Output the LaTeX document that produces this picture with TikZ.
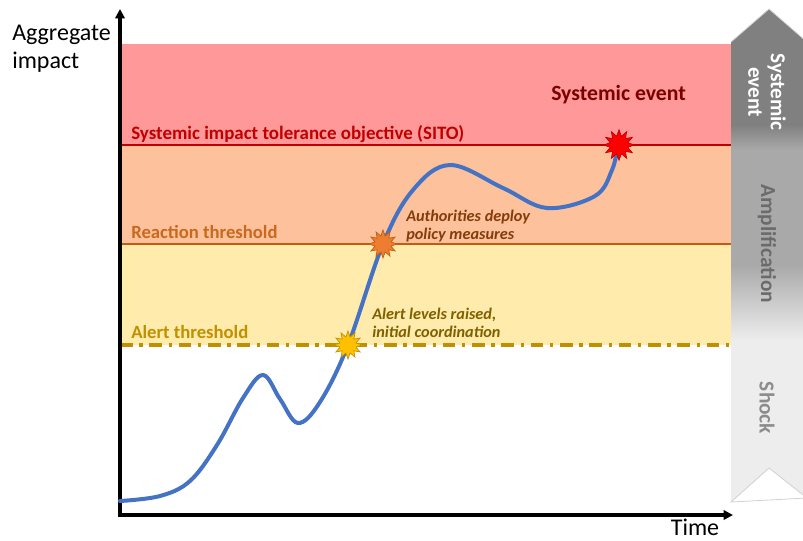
\documentclass[tikz,border=0pt]{standalone}
\usepackage{fontspec}
\setmainfont{Carlito}
\usetikzlibrary{shapes.geometric,arrows.meta}
\definecolor{bandred}{HTML}{FF9999}
\definecolor{bandorange}{HTML}{FDC29B}
\definecolor{bandyellow}{HTML}{FFEBAB}
\definecolor{sitored}{HTML}{C00000}
\definecolor{reactorange}{HTML}{C55A11}
\definecolor{reacttext}{HTML}{C8691E}
\definecolor{alertgold}{HTML}{BF9000}
\definecolor{curveblue}{HTML}{4472C4}
\definecolor{maroon}{HTML}{7B0000}
\definecolor{brownish}{HTML}{843C0C}
\definecolor{olivebrown}{HTML}{7F6000}
\definecolor{chevdark}{HTML}{808080}
\definecolor{chevmid}{HTML}{A9A9A9}
\definecolor{chevlight}{HTML}{EDEDED}
\definecolor{burstgold}{HTML}{FFC000}
\definecolor{burstorange}{HTML}{ED7D31}
\tikzset{
  lbl/.style={font=\fontsize{14pt}{16pt}\selectfont\bfseries, inner sep=0pt, anchor=base west},
  note/.style={font=\fontsize{12.2pt}{13.5pt}\selectfont\bfseries\itshape, inner sep=0pt, anchor=base west, align=left},
  axislbl/.style={font=\fontsize{18pt}{21pt}\selectfont, inner sep=0pt, anchor=base west, align=left},
  chevtxt/.style={font=\fontsize{16pt}{17pt}\selectfont\bfseries, inner sep=0pt, rotate=-90, align=center},
  burst/.style={star, star points=12, star point ratio=1.7, minimum size=21pt, inner sep=0pt, line width=0.5pt},
}
\begin{document}
\begin{tikzpicture}[x=0.75pt,y=-0.75pt]
\useasboundingbox (0,0) rectangle (803,540);
% bands
\fill[bandred] (120,44) rectangle (731,145);
\fill[bandorange] (120,145) rectangle (731,244);
\fill[bandyellow] (120,244) rectangle (731,345);
% threshold lines
\draw[sitored, line width=2.2pt] (120,145) -- (731,145);
\draw[reactorange, line width=1.8pt] (120,244) -- (731,244);
\draw[alertgold, line width=2.4pt, dash pattern=on 9.5pt off 5pt on 2.5pt off 5pt] (120,345) -- (731,345);
% chevron
\begin{scope}
\clip (731,42) -- (769,9) -- (807,42) -- (807,498) -- (769,468) -- (731,502) -- cycle;
\fill[chevdark] (725,0) rectangle (810,125);
\shade[top color=chevdark, bottom color=chevmid] (725,124.5) rectangle (810,150);
\fill[chevmid] (725,149.5) rectangle (810,265);
\shade[top color=chevmid, bottom color=chevlight] (725,264.5) rectangle (810,340);
\fill[chevlight] (725,339.5) rectangle (810,540);
\end{scope}
\draw[black!18, line width=0.6pt] (731,42) -- (769,9) -- (807,42) (807,498) -- (769,468) -- (731,502) -- cycle;
\node[chevtxt, text=white] (cs) at (767,92) {Systemic\\event};
\node[chevtxt, text=black!58] (ca) at (767,244) {Amplification};
\node[chevtxt, text=black!45] (cb) at (767,408) {Shock};
% axes
\coordinate (o) at (120,515);
\coordinate (ytop) at (120,9);
\coordinate (xend) at (733,515);
\draw[line width=2.4pt, -{Triangle[length=7pt,width=7pt]}] ([yshift=-1.2pt]o) -- (ytop);
\draw[line width=2.4pt, -{Triangle[length=7pt,width=7pt]}] ([xshift=-1.2pt]o) -- (xend);
% curve
\draw[curveblue, line width=3pt, line cap=round] plot[smooth, tension=0.6] coordinates {
 (120,501) (160,496) (190,481) (217,445) (243,398) (263,375) (280,399) (298,423) (320,402) (348,345) (383,244) (413,190) (450,165) (503,188) (547,208) (595,196) (612,170) (618,145)};
% bursts
\node[burst, fill=burstgold, draw=alertgold] (b1) at (348,345) {};
\node[burst, fill=burstorange, draw=reactorange] (b2) at (383,244) {};
\node[burst, fill=red, draw=sitored, minimum size=23pt] (b3) at (619,145) {};
% labels
\node[lbl, text=sitored, font=\fontsize{14.2pt}{16pt}\selectfont\bfseries] (l1) at (131,139) {Systemic impact tolerance objective (SITO)};
\node[lbl, text=reacttext] (l2) at (131,238) {Reaction threshold};
\node[lbl, text=alertgold] (l3) at (131,338) {Alert threshold};
\node[lbl, text=maroon, font=\fontsize{16.3pt}{18pt}\selectfont\bfseries] (l4) at (551,100) {Systemic event};
\node[note, text=brownish] (n1) at (406,239) {Authorities deploy\\policy measures};
\node[note, text=olivebrown] (n2) at (372,337) {Alert levels raised,\\initial coordination};
\node[axislbl] (ay) at (12,68) {Aggregate\\impact};
\node[axislbl, anchor=base] (ax) at (695,535) {Time};
\end{tikzpicture}
\end{document}
